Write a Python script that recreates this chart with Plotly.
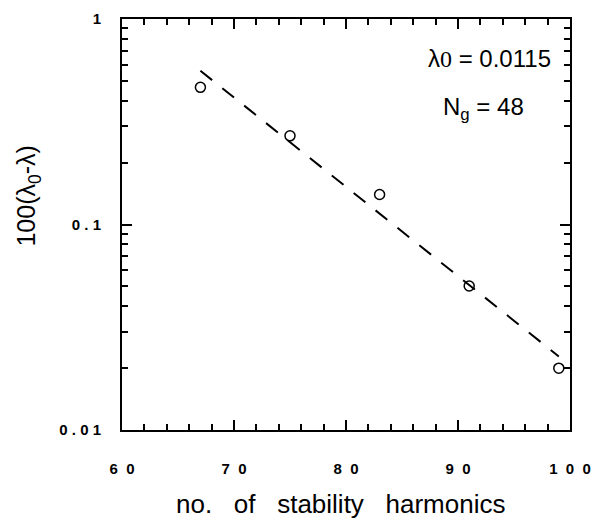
import plotly.graph_objects as go

harmonics = [67, 75, 83, 91, 99]
values = [0.465, 0.270, 0.140, 0.0502, 0.0200]
fit_x = [67, 99]
fit_y = [0.56, 0.0228]

SPX = "\u00a0\u00a0"
SPY = "\u00a0"
x_tickvals = [60, 70, 80, 90, 100]
x_ticktext = ["<b>6" + SPX + "0</b>", "<b>7" + SPX + "0</b>", "<b>8" + SPX + "0</b>",
              "<b>9" + SPX + "0</b>", "<b>1" + SPX + "0" + SPX + "0</b>"]
y_tickvals = [0.01, 0.1, 1]
y_ticktext = ["<b>0" + SPY + "." + SPY + "0" + SPY + "1</b>", "<b>0" + SPY + "." + SPY + "1</b>", "<b>1</b>"]

x_title = "no.\u00a0\u00a0 of\u00a0\u00a0 stability\u00a0\u00a0 harmonics"
y_title = "100(λ<sub>0</sub>-λ)"
note1 = "λ<span style='font-family:Liberation Serif'>0</span> = 0.0115"
note2 = "N<sub>g</sub> = 48"

FONT = "Liberation Sans, Arial, sans-serif"

fig = go.Figure()
fig.add_trace(go.Scatter(x=fit_x, y=fit_y, mode="lines",
                         line=dict(color="black", width=2, dash="15px,13px"),
                         showlegend=False, hoverinfo="skip"))
fig.add_trace(go.Scatter(x=harmonics, y=values, mode="markers",
                         marker=dict(symbol="circle-open", size=10, color="black",
                                     line=dict(width=1.5, color="black")),
                         showlegend=False))

fig.update_layout(
    width=595, height=520,
    margin=dict(l=122, r=25, t=19, b=90),
    plot_bgcolor="white", paper_bgcolor="white",
    font=dict(family=FONT, color="black"),
    annotations=[
        dict(xref="paper", yref="paper", x=0.962, y=0.905, xanchor="right", yanchor="middle",
             text=note1, showarrow=False, font=dict(size=24, family=FONT)),
        dict(xref="paper", yref="paper", x=0.806, y=0.783, xanchor="center", yanchor="middle",
             text=note2, showarrow=False, font=dict(size=24, family=FONT)),
        dict(xref="paper", yref="paper", x=0.4888, y=-0.180, xanchor="center", yanchor="middle",
             text=x_title, showarrow=False, font=dict(size=26, family=FONT)),
        dict(xref="paper", yref="paper", x=-0.2098, y=0.568, xanchor="center", yanchor="middle",
             text=y_title, textangle=-90, showarrow=False, font=dict(size=25, family=FONT)),
    ],
    xaxis=dict(range=[60, 100], tickvals=x_tickvals, ticktext=x_ticktext,
               ticks="inside", ticklen=10, tickwidth=1.5, tickcolor="black",
               showline=True, linewidth=2, linecolor="black", mirror="allticks",
               showgrid=False, zeroline=False, automargin=False,
               tickfont=dict(size=15, family=FONT),
               ticklabelstandoff=24,
               minor=dict(dtick=2, ticks="inside", ticklen=6, tickwidth=1.5, tickcolor="black", showgrid=False)),
    yaxis=dict(type="log", range=[-2, 0], tickvals=y_tickvals, ticktext=y_ticktext,
               ticks="inside", ticklen=10, tickwidth=1.5, tickcolor="black",
               showline=True, linewidth=2, linecolor="black", mirror="allticks",
               showgrid=False, zeroline=False, automargin=False,
               tickfont=dict(size=15, family=FONT),
               ticklabelstandoff=16,
               minor=dict(dtick="D1", ticks="inside", ticklen=6, tickwidth=1.5, tickcolor="black", showgrid=False)),
)

fig.write_html("out.html")
